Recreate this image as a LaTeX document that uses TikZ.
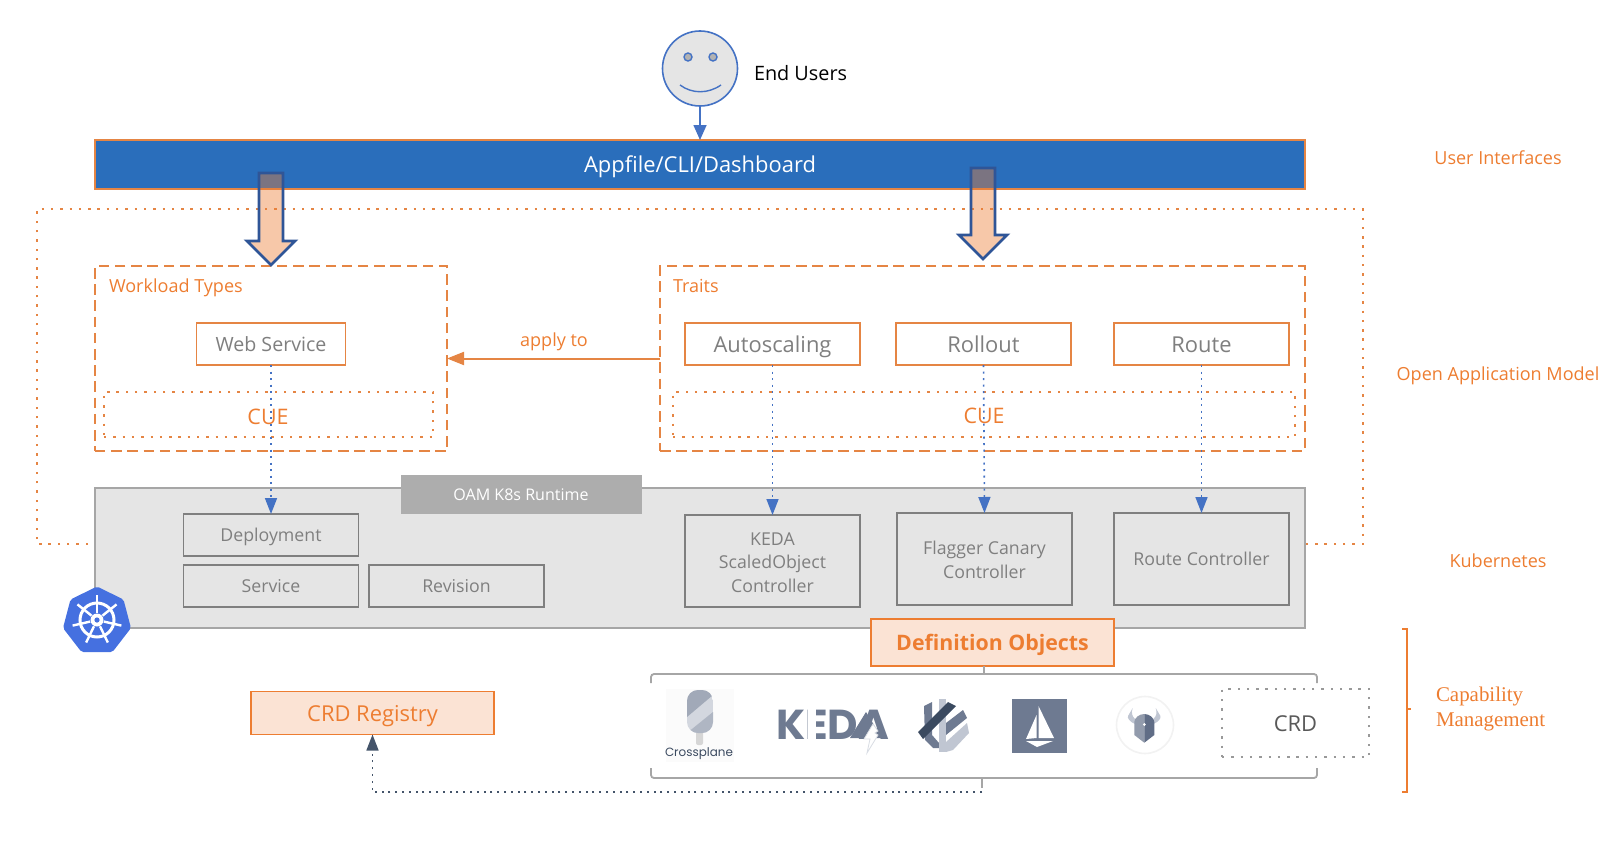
\documentclass[tikz,border=0pt]{standalone}
\usepackage{fontspec}
\setmainfont{Open Sans}
\newfontfamily\popp{Poppins}
\newfontfamily\tnr{Liberation Serif}
\usetikzlibrary{arrows.meta,shapes.geometric,calc}
\definecolor{org}{HTML}{ED7D31}
\definecolor{orgl}{HTML}{E58544}
\definecolor{peach}{HTML}{FBE3D4}
\definecolor{txtgrey}{HTML}{7F7F7F}
\definecolor{bluel}{HTML}{4472C4}
\definecolor{barblue}{HTML}{2A6EBB}
\definecolor{navy}{HTML}{2F5597}
\definecolor{slate}{HTML}{44546A}
\definecolor{logo}{HTML}{6E7A91}
\definecolor{logod}{HTML}{3B4A60}
\definecolor{logol}{HTML}{C0C6D2}
\definecolor{kblue}{HTML}{4570E0}
\newlength{\kedaE}
\newcommand{\firstdown}{\rule{0pt}{16bp}}
\tikzset{
 x=1bp,y=-1bp,
 every node/.style={inner sep=0pt,outer sep=0pt},
 ct/.style={text height=#1*0.76bp,text depth=0pt},
 otxt/.style={text=org,ct=18.1,font=\fontsize{18.1}{22}\selectfont},
 tbox/.style={draw=orgl,line width=1.8bp,fill=white,text=txtgrey,ct=22,font=\fontsize{22}{26}\selectfont},
 gbox/.style={draw=txtgrey,line width=1.8bp,text=txtgrey,font=\fontsize{17.8}{24}\selectfont,align=center},
 dashbox/.style={draw=orgl,line width=2.6bp,dash pattern=on 10.5bp off 5.7bp},
 dotbox/.style={draw=orgl,line width=2.4bp,dash pattern=on 2.4bp off 6.9bp},
 dotline/.style={draw=bluel,line width=1.6bp,dash pattern=on 2bp off 4.5bp,-{Triangle[width=12bp,length=16bp]}},
 bigarrow/.style={draw=navy,line width=2.7bp,fill=org,fill opacity=.42,line join=miter},
 peachbox/.style={draw=org,line width=1.8bp,fill=peach,text=org,ct=22,font=\fontsize{22}{26}\selectfont},
 bracket/.style={draw=black!35,line width=1.8bp,rounded corners=3bp},
}
\begin{document}
\begin{tikzpicture}
\useasboundingbox (0,0) rectangle (1622,842);
% outer dotted
\coordinate (ol) at (88,544);
\coordinate (or) at (1306,544);
\draw[dotbox] (ol) -- (37,544) -- (37,209) -- (1363,209) -- (1363,544) -- (or);
% face
\node[circle,draw=bluel,line width=1.6bp,fill=black!10,minimum size=75bp] (face) at (700,68.5) {};
\draw[bluel,line width=1.4bp,fill=black!30] (688,57) circle (4);
\draw[bluel,line width=1.4bp,fill=black!30] (713,57) circle (4);
\draw[bluel,line width=1.4bp] (680,85) .. controls (692,94) and (708,94) .. (721,85);
\node[anchor=west,text=black,font=\fontsize{19.9}{24}\selectfont] (users) at (754,73) {End Users};
% bar
\node[draw=orgl,line width=2bp,fill=barblue,minimum width=1210bp,minimum height=49bp] (bar) at (700,164.5) {};
\node[text=white,ct=22,font=\fontsize{22}{26}\selectfont] (bartext) at (700,164) {Appfile/CLI/Dashboard};
\draw[bluel,line width=1.6bp,-{Triangle[width=13bp,length=15bp]}] (face.south) -- (bar.north);
% workload
\node[dashbox,minimum width=352bp,minimum height=185bp] (work) at (271,358.5) {};
\node[otxt,anchor=west] (worktext) at (109,286) {Workload Types};
\node[tbox,ct=19.7,minimum width=149bp,minimum height=42bp,font=\fontsize{19.7}{24}\selectfont] (web) at (271,344) {Web Service};
\node[dotbox,minimum width=329bp,minimum height=45bp] (cue1) at (268.5,414.5) {};
\node[otxt,ct=21.5,font=\fontsize{21.5}{26}\selectfont] (cue1t) at (268,416) {CUE};
% traits
\node[dashbox,minimum width=645bp,minimum height=185bp] (traits) at (982.5,358.5) {};
\node[otxt,anchor=west] (traitstext) at (673,286) {Traits};
\node[tbox,minimum width=175bp,minimum height=42bp] (auto) at (772.5,344) {Autoscaling};
\node[tbox,minimum width=175bp,minimum height=42bp] (roll) at (983.5,344) {Rollout};
\node[tbox,minimum width=175bp,minimum height=42bp] (route) at (1201.5,344) {Route};
\node[dotbox,minimum width=622bp,minimum height=45bp] (cue2) at (984,414.5) {};
\node[otxt,ct=21.5,font=\fontsize{21.5}{26}\selectfont] (cue2t) at (984,415) {CUE};
\draw[orgl,line width=2bp,-{Triangle[width=13bp,length=17bp]}] (traits.west) -- (work.east);
\node[otxt] (apply) at (554,340) {apply to};
% k8s
\node[draw=black!35,line width=2.2bp,fill=black!10,minimum width=1210bp,minimum height=140bp] (k8s) at (700,558) {};
\node[draw=black!32,fill=black!32,text=white,ct=16.1,font=\fontsize{16.1}{20}\selectfont,minimum width=240bp,minimum height=38bp] (oam) at (521,494.5) {OAM K8s Runtime};
\node[gbox,ct=17.8,minimum width=175bp,minimum height=42bp] (dep) at (271,535) {Deployment};
\node[gbox,ct=17.8,minimum width=175bp,minimum height=42bp] (svc) at (271,586) {Service};
\node[gbox,ct=17.8,minimum width=175bp,minimum height=42bp] (rev) at (456.5,586) {Revision};
\node[gbox,minimum width=175bp,minimum height=92bp] (keda) at (772.5,561) {\firstdown KEDA\\ScaledObject\\Controller};
\node[gbox,minimum width=175bp,minimum height=92bp] (flag) at (984.5,559) {\firstdown Flagger Canary\\Controller};
\node[gbox,ct=17.8,minimum width=175bp,minimum height=92bp] (rc) at (1201.5,559) {Route Controller};
\draw[dotline] (web.south) -- (dep.north);
\draw[dotline] (auto.south) -- (keda.north);
\draw[dotline] (roll.south) -- (flag.north);
\draw[dotline] (route.south) -- (rc.north);
% k8s logo
\fill[kblue,rounded corners=2bp] (97,586.5) -- (123.5,599.5) -- (131,628) -- (112.5,652) -- (81.5,652) -- (63,628) -- (70.5,599.5) -- cycle;
\draw[white,line width=3bp] (97,620) circle (17);
\fill[white] (97,620) circle (6.5);
\fill[kblue] (97,620) circle (2.6);
\foreach \a in {-90,-38.6,12.9,64.3,115.7,167.1,218.6}{
  \draw[white,line width=2.4bp] ($(97,620)+(\a:7)$) -- ($(97,620)+(\a:25)$);
}
% side labels
\node[otxt] (li1) at (1498,158) {User Interfaces};
\node[otxt] (li2) at (1498,374) {Open Application Model};
\node[otxt] (li3) at (1498,561) {Kubernetes};
\node[anchor=west,text=org,font=\tnr\fontsize{21}{25}\selectfont,align=left] (li4) at (1436,709) {Capability\\Management};
\draw[org,line width=2bp] (1402,628.5) -- (1407,628.5) -- (1407,792) -- (1402,792);
\draw[org,line width=2bp] (1407,709) -- (1411,709);
% definition objects
\node[peachbox,ct=21.4,minimum width=243bp,minimum height=47bp,font=\bfseries\fontsize{21.4}{26}\selectfont] (def) at (992.5,642.5) {Definition Objects};
\coordinate (tt) at (984,666);
\coordinate (tb) at (984,674);
\draw[bracket] (651,683) -- (651,674) -- (1317,674) -- (1317,683);
\draw[black!35,line width=1.6bp] (tt) -- (tb);
\draw[bracket] (651,768) -- (651,778) -- (1317,778) -- (1317,768);
\coordinate (bt) at (982,778);
\coordinate (bb) at (982,792);
\draw[black!35,line width=1.6bp] (bt) -- (982,788);
% CRD registry
\node[peachbox,minimum width=243bp,minimum height=43bp] (reg) at (372.5,713) {CRD Registry};
\draw[draw=slate,line width=1.6bp,dash pattern=on 2bp off 4.8bp,-{Triangle[width=12bp,length=16bp]}] (bb) -| (reg.south);
% CRD dotted
\node[draw=black!40,line width=2.4bp,dash pattern=on 2.4bp off 6.9bp,minimum width=147bp,minimum height=68bp,text=black!65,ct=22,font=\fontsize{22}{26}\selectfont] (crd) at (1295.5,723) {CRD};
% crossplane
\fill[black!1.5] (666,689) rectangle (734,762);
\fill[black!16,rounded corners=2bp] (696,730) rectangle (703,745);
\begin{scope}
\clip[rounded corners=11bp] (687,690) rectangle (713,733);
\fill[logol!70] (687,690) rectangle (713,733);
\fill[logo!65] (687,690) -- (713,690) -- (713,695) -- (687,717) -- cycle;
\fill[logo!55] (687,733) -- (687,733) -- (713,712) -- (713,733) -- cycle;
\end{scope}
\node[text=logod,font=\popp\fontsize{12}{14}\selectfont] (cp) at (699,754) {Crossplane};
% keda
\node[anchor=base west,text=logo,font=\popp\bfseries\fontsize{42}{46}\selectfont] (kd) at (776,739) {\settowidth{\kedaE}{E}KE\llap{\textcolor{white}{\rule[-2bp]{8bp}{36bp}}\kern\dimexpr\kedaE-10.5bp\relax}DA};
\fill[logo] (866,712) -- (850,738) -- (882,738) -- cycle;
\filldraw[fill=white,draw=logol!60,line width=.8bp] (873,724) -- (878,731) -- (875,733) -- (878,735) -- (867,753) -- (870,739) -- (864,739) -- cycle;
% flux-like logo
\fill[logo] (924,706) -- (932,702) -- (932,735) -- (939,743) -- (939,748) -- (933,748) -- (925,740) -- cycle;
\fill[logol] (939,699) rectangle (946,752);
\fill[logod] (918,732) -- (948,702) -- (956,706) -- (923,739) -- cycle;
\fill[logo] (946,723) -- (963,710) -- (967,718) -- (946,735) -- cycle;
\fill[logol] (946,742) -- (967,723) -- (969,733) -- (953,750) -- (946,752) -- cycle;
% istio
\fill[logo] (1012,699) rectangle (1067,753);
\fill[white] (1038.5,706) -- (1054,738) -- (1038.5,738) -- cycle;
\fill[white] (1036.5,715) -- (1036.5,738) -- (1026,739) -- cycle;
\fill[white] (1026,741) -- (1053,741) -- (1037,747) -- cycle;
% opa
\filldraw[fill=white,draw=black!5,line width=1.6bp] (1145,725) circle (28.5);
\fill[logol] (1132.7,708) .. controls (1131,713) and (1132,716) .. (1135,719) -- (1135,724) .. controls (1130,722) and (1127,718) .. (1128,716) -- cycle;
\fill[logol] (1155.7,708) .. controls (1157.4,713) and (1156.4,716) .. (1153.4,719) -- (1153.4,724) .. controls (1158.4,722) and (1161.4,718) .. (1160.4,716) -- cycle;
\fill[logo!75] (1144.3,714) .. controls (1139,714) and (1134.5,718) .. (1134.3,722) -- (1134.3,735) -- (1144.3,742.7) -- cycle;
\fill[logo!110] (1144.3,714) .. controls (1149.6,714) and (1154.1,718) .. (1154.3,722) -- (1154.3,735) -- (1144.3,742.7) -- cycle;
\fill[white] (1144.3,724.5) circle (1.5);
% big arrows
\coordinate (a1) at (271,265);
\coordinate (a2) at (983,259);
\draw[bigarrow] (259,173) -- (283,173) -- (283,241) -- (295,241) -- (a1) -- (247,241) -- (259,241) -- cycle;
\draw[bigarrow] (971,168) -- (995,168) -- (995,235) -- (1007,235) -- (a2) -- (959,235) -- (971,235) -- cycle;
\end{tikzpicture}
\end{document}
